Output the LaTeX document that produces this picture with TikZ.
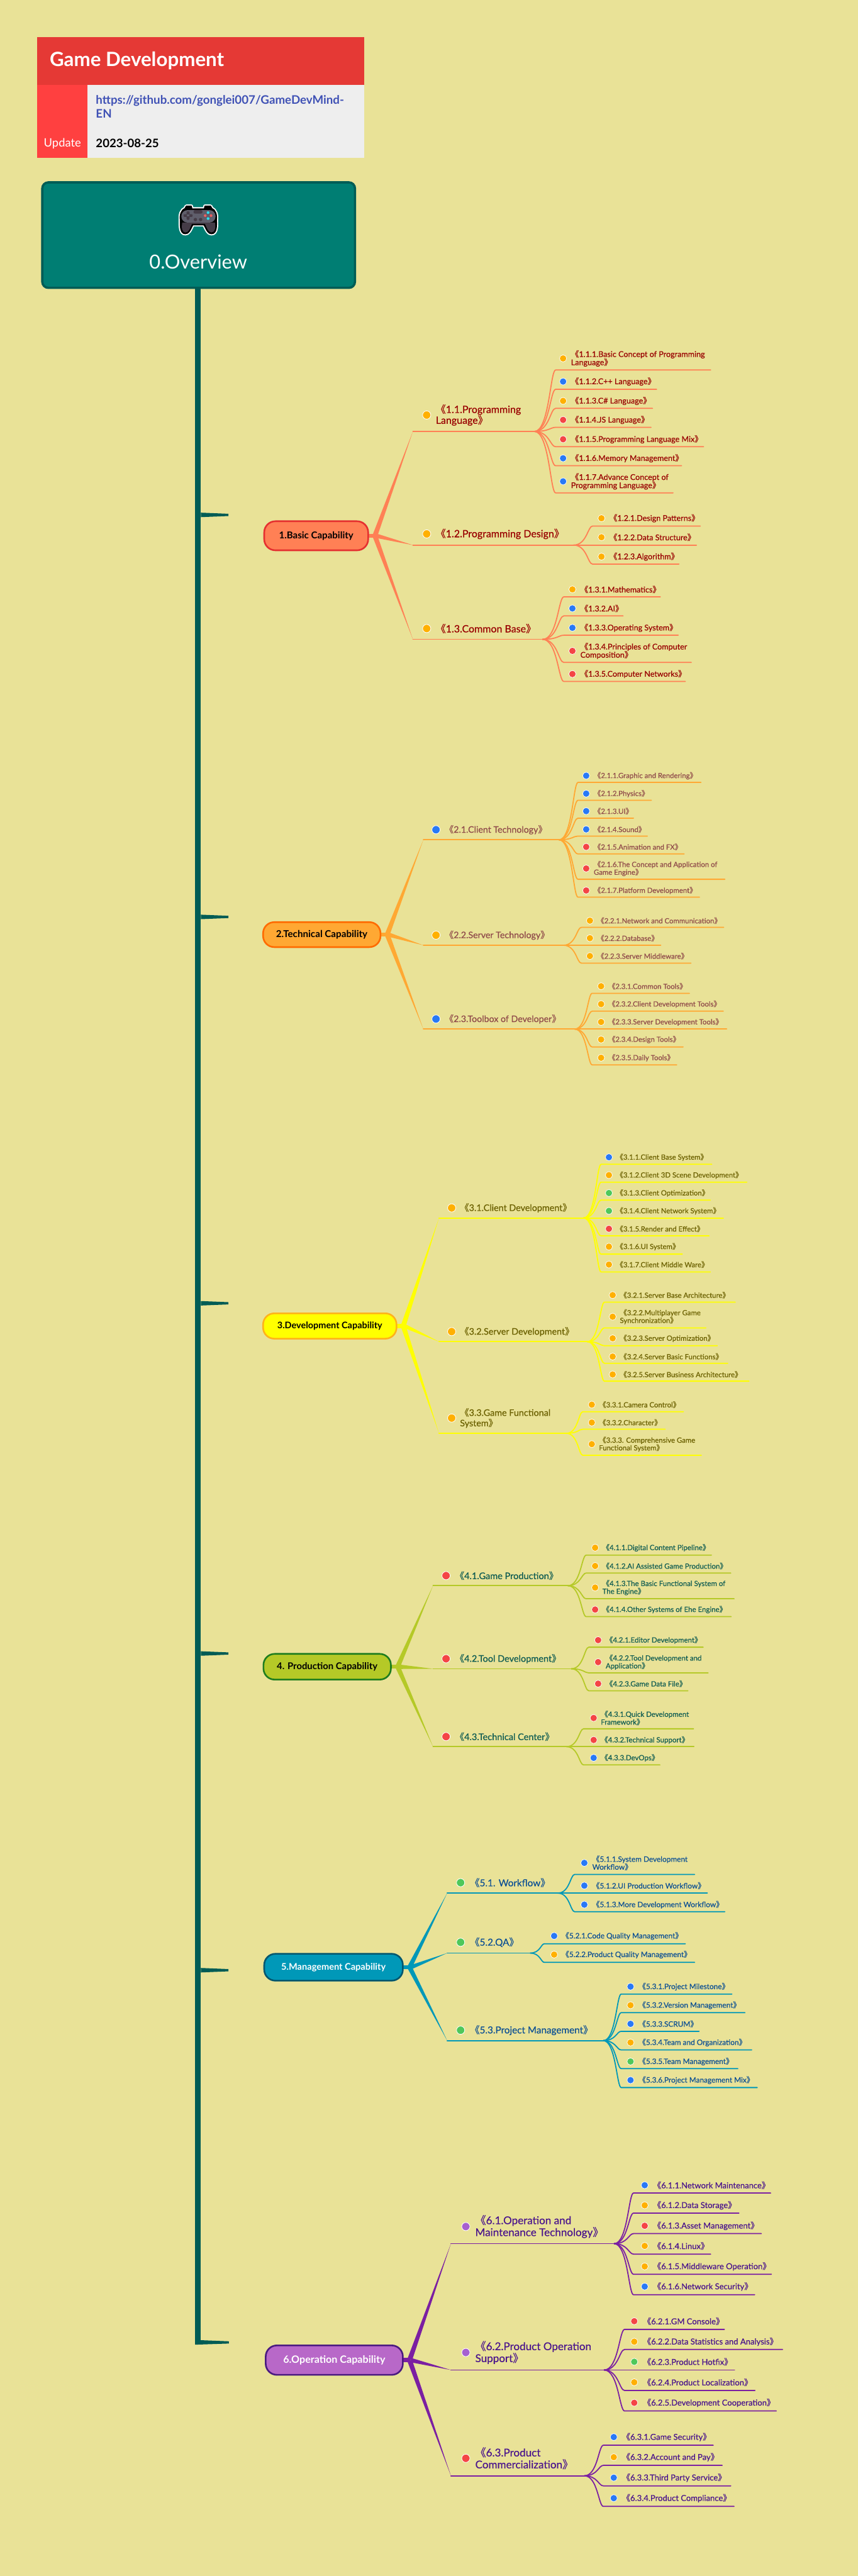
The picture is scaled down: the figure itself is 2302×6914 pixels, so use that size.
\documentclass[tikz,border=0pt]{standalone}
\usepackage{fontspec}
\usetikzlibrary{calc}
\setmainfont{Lato}
\newfontfamily\mdw[FakeBold=0.35]{Lato}
\newfontfamily\bdw{Lato Bold}
\newfontfamily\cjkf[FakeBold=0.2]{Noto Sans CJK SC}
\def\lb{{\cjkf 《}}
\def\rb{{\cjkf 》}}
\def\pxu{0.5pt}
\definecolor{bgc}{HTML}{E9E297}
\definecolor{dko}{HTML}{FFB000}
\definecolor{dkb}{HTML}{2979F5}
\definecolor{dkr}{HTML}{F44545}
\definecolor{dkg}{HTML}{4FC85A}
\definecolor{dkp}{HTML}{A660CF}
\definecolor{trunk}{HTML}{005C55}
\definecolor{HdrRed}{HTML}{E53935}
\definecolor{HdrRedB}{HTML}{FF4040}
\definecolor{HdrGray}{HTML}{EEEEEE}
\definecolor{HdrBlue}{HTML}{3F51B5}
\definecolor{OvFill}{HTML}{007E73}
\definecolor{PadDark}{HTML}{453C47}
\definecolor{PadGray}{HTML}{5F5E6B}
\definecolor{PadCy}{HTML}{29E0EF}
\definecolor{PadRd}{HTML}{EE5F5F}
\definecolor{G1L}{HTML}{FF8055}
\definecolor{G1T}{HTML}{990000}
\definecolor{G1B}{HTML}{E53030}
\definecolor{G2L}{HTML}{FFA833}
\definecolor{G2T}{HTML}{8F4A4A}
\definecolor{G2B}{HTML}{FF6B00}
\definecolor{G3L}{HTML}{FFFF00}
\definecolor{G3T}{HTML}{6B6000}
\definecolor{G3B}{HTML}{FFB21A}
\definecolor{G4L}{HTML}{B5C927}
\definecolor{G4T}{HTML}{0F5C52}
\definecolor{G4B}{HTML}{1E7D1E}
\definecolor{G5L}{HTML}{0098B8}
\definecolor{G5T}{HTML}{0B4F94}
\definecolor{G5B}{HTML}{00566E}
\definecolor{G6L}{HTML}{7B1FA2}
\definecolor{G6F}{HTML}{B868C8}
\definecolor{G6T}{HTML}{4A148C}
\definecolor{G6B}{HTML}{4A1A80}
\tikzset{
  link/.style={draw=gline,line width=1.5pt,line cap=round},
  dotn/.style={circle,draw=white,line width=0.6pt,inner sep=0pt,minimum size=19*\pxu},
  dotm/.style={circle,draw=white,line width=0.7pt,inner sep=0pt,minimum size=22*\pxu},
  lab/.style={anchor=west,align=left,inner sep=0pt,text=gtext},
  mainb/.style={rounded corners=15pt,line width=2.2pt,inner sep=0pt,align=center}
}
% main node: id x1 y1 x2 y2 fill border textcolor text
\newcommand\Mn[9]{%
  \coordinate (#1-j) at (#4+12,{(#3+#5)/2});
  \fill[gline] ($(#1-j)+(-13,-5.5)$) rectangle ($(#1-j)+(7,5.5)$);
  \node[mainb,fill=#6,draw=#7,text=#8,minimum width={(#4-#2)*\pxu},minimum height={(#5-#3)*\pxu},font=\mfont] (#1) at ({(#2+#4)/2},{(#3+#5)/2}) {#9};
}
% branch: id main startx liney hubx kind
\newcommand\Bra[6]{%
  \coordinate (#1-s) at (#3,#4);
  \coordinate (#1-h) at (#5,#4);
  \ifnum#6=0 \fill[gline] ($(#2-j)+(-1,0)$) -- ($(#2-j)+(13,0)$) -- (#1-s) -- cycle;
  \else \fill[gline] ($(#2-j)+(10,-6)$) -- ($(#2-j)+(10,6)$) -- (#1-s) -- cycle; \fi
  \draw[link] (#1-s) -- (#1-h);
  \def\hx{#5}\def\hy{#4}\def\hb{#1-h}%
}
% branch label: id dotx doty colour boxx text
\newcommand\Blab[6]{%
  \node[dotm,fill=#4] (#1-d) at (#2,#3) {};
  \node[lab,font=\bfont] (#1-t) at (#5,#3) {#6};
}
\newcommand\LfSet[3]{\def\cx{#1}\def\ldx{#2}\def\lbx{#3}}
% leaf: id liney endx doty colour text
\newcommand\Lf[6]{%
  \coordinate (#1-e) at (#3,#2);
  \coordinate (#1-k) at (\cx,#2);
  \coordinate (#1-ca) at ({\hx+0.7*(\cx-\hx)},\hy);
  \coordinate (#1-cb) at ({\hx+0.75*(\cx-\hx)},#2);
  \draw[link] (\hb) .. controls (#1-ca) and (#1-cb) .. (#1-k) -- (#1-e);
  \node[dotn,fill=#5] (#1-d) at (\ldx,#4) {};
  \node[lab,font=\lfont] (#1-t) at (\lbx,#4) {#6};
}
\begin{document}
\begin{tikzpicture}[x=0.5pt,y=-0.5pt]
\useasboundingbox (0,0) rectangle (2302,6914);
\fill[bgc] (0,0) rectangle (2302,6914);
% header
\node[fill=HdrRed,minimum width=877*\pxu,minimum height=128*\pxu,inner sep=0pt,anchor=north west] (hdr) at (100,100) {};
\node[fill=HdrRedB,minimum width=135*\pxu,minimum height=196*\pxu,inner sep=0pt,anchor=north west] (upd) at (100,228) {};
\node[fill=HdrGray,minimum width=742*\pxu,minimum height=196*\pxu,inner sep=0pt,anchor=north west] (bodyc) at (235,228) {};
\node[anchor=west,inner sep=0pt,text=white,font=\fontsize{26.4}{30}\selectfont\bdw] (ttl) at (133,163) {Game Development};
\node[anchor=west,inner sep=0pt,align=left,text=HdrBlue,font=\fontsize{15.8}{18}\selectfont\bdw] (url) at (257,286) {https://github.com/gonglei007/GameDevMind-\\EN};
\node[anchor=center,inner sep=0pt,text=white,font=\fontsize{15.5}{18}\selectfont] (updt) at (167.5,385) {Update};
\node[anchor=west,inner sep=0pt,text=black,font=\fontsize{15.7}{18}\selectfont\bdw] (dat) at (257,385) {2023-08-25};
% overview
\draw[trunk,line width=7.5pt] (531.5,770) -- (531.5,6293);
\node[rounded corners=8pt,fill=OvFill,draw=trunk,line width=3pt,minimum width=839*\pxu,minimum height=283*\pxu,inner sep=0pt] (ov) at (533,631) {};
\node[inner sep=0pt,text=white,font=\fontsize{26}{30}\selectfont] (ovt) at (532,703) {0.Overview};
% gamepad
\begin{scope}[shift={(470,540)},x=0.16667pt,y=-0.16667pt]
\def\padp{(135,62) -- (235,62) -- (240,40) -- (285,40) -- (295,58) .. controls (325,70) and (338,110) .. (332,150) .. controls (335,200) and (335,262) .. (292,262) .. controls (265,262) and (255,235) .. (232,190) -- (142,190) .. controls (120,235) and (110,262) .. (82,262) .. controls (40,262) and (40,200) .. (42,150) .. controls (36,110) and (50,70) .. (80,58) -- (90,40) -- (130,40) -- cycle}
\path[draw=white,line width=4.6pt,line join=round] \padp;
\path[fill=black,draw=black,line width=1.4pt,line join=round] \padp;
\fill[PadDark] (57,172) .. controls (52,210) and (50,250) .. (85,252) .. controls (112,250) and (120,215) .. (135,182) -- (240,182) .. controls (255,215) and (265,250) .. (292,252) .. controls (325,250) and (325,210) .. (320,172) -- cycle;
\fill[PadGray,rounded corners=8pt] (50,72) -- (325,72) -- (325,172) -- (50,172) -- cycle;
\fill[PadDark,rounded corners=2pt] (148,72) -- (220,72) -- (220,100) -- (148,100) -- cycle;
\fill[PadDark,rounded corners=1pt] (92,82) rectangle (116,150);
\fill[PadDark,rounded corners=1pt] (68,105) rectangle (140,127);
\fill[PadGray] (96,108) rectangle (112,124);
\fill[PadDark] (163,148) circle [radius=14];
\fill[PadDark] (205,148) circle [radius=14];
\fill[PadCy] (265,92) circle [radius=11];
\fill[PadCy] (265,140) circle [radius=11];
\fill[PadRd] (242,116) circle [radius=11];
\fill[PadRd] (289,116) circle [radius=11];
\end{scope}
% trunk stubs
\foreach \sid/\sy in {s1/1382,s2/2461,s3/3498,s4/4438,s5/5288}{
  \coordinate (\sid-a) at (539,\sy-6);
  \coordinate (\sid-b) at (613,\sy-3);
  \coordinate (\sid-c) at (613,\sy+3);
  \coordinate (\sid-d) at (539,\sy+6);
  \fill[trunk] (\sid-a) -- (\sid-b) -- (\sid-c) -- (\sid-d) -- cycle;
}
\coordinate (s6-a) at (539,6281);
\coordinate (s6-b) at (614,6284);
\coordinate (s6-c) at (614,6290);
\coordinate (s6-d) at (524,6293);
\fill[trunk] (s6-a) -- (s6-b) -- (s6-c) -- (s6-d) -- cycle;
%%%% GROUP 1
\colorlet{gline}{G1L}\colorlet{gtext}{G1T}
\def\mfont{\fontsize{12.7}{16}\selectfont\bdw}
\def\bfont{\fontsize{13.5}{14.5}\selectfont\mdw}
\def\lfont{\fontsize{10.6}{11}\selectfont\mdw}
\Mn{m1}{709}{1399}{988}{1477}{G1L}{G1B}{black}{1.Basic Capability}
\Bra{b11}{m1}{1108}{1158}{1434}{0}
\Blab{b11}{1145}{1114}{dko}{1169}{\lb 1.1.Programming\\Language\rb}
\LfSet{1491}{1511}{1532}
\Lf{l111}{993}{1907}{962}{dko}{\lb 1.1.1.Basic Concept of Programming\\Language\rb}
\Lf{l112}{1045}{1762}{1024}{dkb}{\lb 1.1.2.C++ Language\rb}
\Lf{l113}{1096}{1751}{1076}{dko}{\lb 1.1.3.C\# Language\rb}
\Lf{l114}{1147}{1747}{1127}{dkr}{\lb 1.1.4.JS Language\rb}
\Lf{l115}{1199}{1888}{1179}{dkr}{\lb 1.1.5.Programming Language Mix\rb}
\Lf{l116}{1250}{1829}{1230}{dkb}{\lb 1.1.6.Memory Management\rb}
\Lf{l117}{1323}{1806}{1292}{dkb}{\lb 1.1.7.Advance Concept of\\Programming Language\rb}
\Bra{b12}{m1}{1108}{1463}{1539}{1}
\Blab{b12}{1145}{1433}{dko}{1169}{\lb 1.2.Programming Design\rb}
\LfSet{1590}{1614}{1635}
\Lf{l121}{1412}{1879}{1391}{dko}{\lb 1.2.1.Design Patterns\rb}
\Lf{l122}{1463}{1869}{1442}{dko}{\lb 1.2.2.Data Structure\rb}
\Lf{l123}{1514}{1822}{1494}{dko}{\lb 1.2.3.Algorithm\rb}
\Bra{b13}{m1}{1108}{1716}{1456}{0}
\Blab{b13}{1145}{1687}{dko}{1169}{\lb 1.3.Common Base\rb}
\LfSet{1513}{1536}{1557}
\Lf{l131}{1602}{1772}{1582}{dko}{\lb 1.3.1.Mathematics\rb}
\Lf{l132}{1653}{1672}{1633}{dkb}{\lb 1.3.2.AI\rb}
\Lf{l133}{1705}{1820}{1685}{dkb}{\lb 1.3.3.Operating System\rb}
\Lf{l134}{1778}{1855}{1747}{dkr}{\lb 1.3.4.Principles of Computer\\Composition\rb}
\Lf{l135}{1829}{1839}{1809}{dkr}{\lb 1.3.5.Computer Networks\rb}
%%%% GROUP 2
\colorlet{gline}{G2L}\colorlet{gtext}{G2T}
\def\mfont{\fontsize{12.8}{16}\selectfont\bdw}
\def\lfont{\fontsize{9.6}{10.5}\selectfont\mdw}
\def\bfont{\fontsize{12}{14}\selectfont\mdw}
\Mn{m2}{706}{2475}{1021}{2542}{G2L}{G2B}{black}{2.Technical Capability}
\Bra{b21}{m2}{1136}{2254}{1500}{0}
\Blab{b21}{1170}{2227}{dkb}{1193}{\lb 2.1.Client Technology\rb}
\LfSet{1551}{1573}{1593}
\Lf{l211}{2100}{1881}{2082}{dkb}{\lb 2.1.1.Graphic and Rendering\rb}
\Lf{l212}{2148}{1748}{2130}{dkb}{\lb 2.1.2.Physics\rb}
\Lf{l213}{2196}{1700}{2177}{dkb}{\lb 2.1.3.UI\rb}
\Lf{l214}{2244}{1737}{2226}{dkb}{\lb 2.1.4.Sound\rb}
\Lf{l215}{2292}{1836}{2273}{dkr}{\lb 2.1.5.Animation and FX\rb}
\Lf{l216}{2360}{1945}{2331}{dkr}{\lb 2.1.6.The Concept and Application of\\Game Engine\rb}
\Lf{l217}{2408}{1877}{2390}{dkr}{\lb 2.1.7.Platform Development\rb}
\Bra{b22}{m2}{1136}{2537}{1512}{1}
\Blab{b22}{1170}{2510}{dko}{1193}{\lb 2.2.Server Technology\rb}
\LfSet{1560}{1583}{1602}
\Lf{l221}{2489}{1942}{2471}{dko}{\lb 2.2.1.Network and Communication\rb}
\Lf{l222}{2537}{1773}{2518}{dko}{\lb 2.2.2.Database\rb}
\Lf{l223}{2585}{1854}{2566}{dko}{\lb 2.2.3.Server Middleware\rb}
\Bra{b23}{m2}{1136}{2762}{1542}{0}
\Blab{b23}{1170}{2735}{dkb}{1193}{\lb 2.3.Toolbox of Developer\rb}
\LfSet{1589}{1613}{1632}
\Lf{l231}{2666}{1850}{2647}{dko}{\lb 2.3.1.Common Tools\rb}
\Lf{l232}{2714}{1941}{2695}{dko}{\lb 2.3.2.Client Development Tools\rb}
\Lf{l233}{2762}{1950}{2743}{dko}{\lb 2.3.3.Server Development Tools\rb}
\Lf{l234}{2810}{1833}{2790}{dko}{\lb 2.3.4.Design Tools\rb}
\Lf{l235}{2858}{1816}{2839}{dko}{\lb 2.3.5.Daily Tools\rb}
%%%% GROUP 3
\colorlet{gline}{G3L}\colorlet{gtext}{G3T}
\def\mfont{\fontsize{12.2}{16}\selectfont\bdw}
\def\lfont{\fontsize{9.6}{10.3}\selectfont\mdw}
\def\bfont{\fontsize{12.1}{14}\selectfont\mdw}
\Mn{m3}{706}{3525}{1064}{3593}{G3L}{G3B}{black}{3.Development Capability}
\Bra{b31}{m3}{1178}{3269}{1566}{0}
\Blab{b31}{1212}{3242}{dko}{1234}{\lb 3.1.Client Development\rb}
\LfSet{1613}{1634}{1653}
\Lf{l311}{3125}{1910}{3106}{dkb}{\lb 3.1.1.Client Base System\rb}
\Lf{l312}{3173}{2004}{3154}{dko}{\lb 3.1.2.Client 3D Scene Development\rb}
\Lf{l313}{3221}{1906}{3202}{dkg}{\lb 3.1.3.Client Optimization\rb}
\Lf{l314}{3269}{1941}{3250}{dkg}{\lb 3.1.4.Client Network System\rb}
\Lf{l315}{3317}{1903}{3298}{dkr}{\lb 3.1.5.Render and Effect\rb}
\Lf{l316}{3366}{1831}{3346}{dko}{\lb 3.1.6.UI System\rb}
\Lf{l317}{3414}{1906}{3394}{dko}{\lb 3.1.7.Client Middle Ware\rb}
\Bra{b32}{m3}{1178}{3601}{1576}{1}
\Blab{b32}{1212}{3574}{dko}{1234}{\lb 3.2.Server Development\rb}
\LfSet{1622}{1644}{1663}
\Lf{l321}{3495}{1973}{3476}{dko}{\lb 3.2.1.Server Base Architecture\rb}
\Lf{l322}{3564}{1894}{3534}{dko}{\lb 3.2.2.Multiplayer Game\\Synchronization\rb}
\Lf{l323}{3612}{1925}{3592}{dko}{\lb 3.2.3.Server Optimization\rb}
\Lf{l324}{3659}{1953}{3641}{dko}{\lb 3.2.4.Server Basic Functions\rb}
\Lf{l325}{3707}{2010}{3689}{dko}{\lb 3.2.5.Server Business Architecture\rb}
\Bra{b33}{m3}{1178}{3847}{1520}{0}
\Blab{b33}{1212}{3806}{dko}{1234}{\lb 3.3.Game Functional\\System\rb}
\LfSet{1564}{1588}{1607}
\Lf{l331}{3789}{1834}{3770}{dko}{\lb 3.3.1.Camera Control\rb}
\Lf{l332}{3836}{1785}{3818}{dko}{\lb 3.3.2.Character\rb}
\Lf{l333}{3906}{1882}{3876}{dko}{\lb 3.3.3. Comprehensive Game\\Functional System\rb}
%%%% GROUP 4
\colorlet{gline}{G4L}\colorlet{gtext}{G4T}
\def\mfont{\fontsize{12.5}{16}\selectfont\bdw}
\def\lfont{\fontsize{9.7}{10.5}\selectfont\mdw}
\def\bfont{\fontsize{12.25}{14}\selectfont\mdw}
\Mn{m4}{707}{4439}{1049}{4508}{G4L}{G4B}{black}{4. Production Capability}
\Bra{b41}{m4}{1162}{4256}{1524}{0}
\Blab{b41}{1197}{4229}{dkr}{1221}{\lb 4.1.Game Production\rb}
\LfSet{1573}{1597}{1616}
\Lf{l411}{4174}{1909}{4154}{dko}{\lb 4.1.1.Digital Content Pipeline\rb}
\Lf{l412}{4222}{1961}{4203}{dko}{\lb 4.1.2.AI Assisted Game Production\rb}
\Lf{l413}{4291}{1970}{4261}{dko}{\lb 4.1.3.The Basic Functional System of\\The Engine\rb}
\Lf{l414}{4339}{1962}{4320}{dkr}{\lb 4.1.4.Other Systems of Ehe Engine\rb}
\Bra{b42}{m4}{1162}{4479}{1533}{1}
\Blab{b42}{1197}{4452}{dkr}{1221}{\lb 4.2.Tool Development\rb}
\LfSet{1580}{1605}{1625}
\Lf{l421}{4421}{1887}{4402}{dkr}{\lb 4.2.1.Editor Development\rb}
\Lf{l422}{4490}{1900}{4461}{dkr}{\lb 4.2.2.Tool Development and\\Application\rb}
\Lf{l423}{4538}{1846}{4519}{dkr}{\lb 4.2.3.Game Data File\rb}
\Bra{b43}{m4}{1162}{4688}{1520}{0}
\Blab{b43}{1197}{4661}{dkr}{1221}{\lb 4.3.Technical Center\rb}
\LfSet{1566}{1593}{1612}
\Lf{l431}{4640}{1861}{4611}{dkr}{\lb 4.3.1.Quick Development\\Framework\rb}
\Lf{l432}{4688}{1862}{4670}{dkr}{\lb 4.3.2.Technical Support\rb}
\Lf{l433}{4737}{1771}{4718}{dkb}{\lb 4.3.3.DevOps\rb}
%%%% GROUP 5
\colorlet{gline}{G5L}\colorlet{gtext}{G5T}
\def\mfont{\fontsize{12.3}{16}\selectfont\bdw}
\def\lfont{\fontsize{10}{10.5}\selectfont\mdw}
\def\bfont{\fontsize{12.9}{14}\selectfont\mdw}
\Mn{m5}{709}{5244}{1081}{5316}{G5L}{G5B}{white}{5.Management Capability}
\Bra{b51}{m5}{1200}{5081}{1497}{0}
\Blab{b51}{1236}{5053}{dkg}{1261}{\lb 5.1. Workflow\rb}
\LfSet{1542}{1568}{1589}
\Lf{l511}{5031}{1864}{5000}{dkb}{\lb 5.1.1.System Development\\Workflow\rb}
\Lf{l512}{5081}{1898}{5061}{dkb}{\lb 5.1.2.UI Production Workflow\rb}
\Lf{l513}{5131}{1945}{5112}{dkb}{\lb 5.1.3.More Development Workflow\rb}
\Bra{b52}{m5}{1200}{5242}{1423}{1}
\Blab{b52}{1236}{5213}{dkg}{1261}{\lb 5.2.QA\rb}
\LfSet{1461}{1487}{1507}
\Lf{l521}{5217}{1839}{5196}{dkb}{\lb 5.2.1.Code Quality Management\rb}
\Lf{l522}{5267}{1864}{5246}{dko}{\lb 5.2.2.Product Quality Management\rb}
\Bra{b53}{m5}{1200}{5477}{1619}{0}
\Blab{b53}{1236}{5449}{dkg}{1261}{\lb 5.3.Project Management\rb}
\LfSet{1667}{1692}{1713}
\Lf{l531}{5352}{1964}{5332}{dkb}{\lb 5.3.1.Project Milestone\rb}
\Lf{l532}{5402}{1999}{5382}{dko}{\lb 5.3.2.Version Management\rb}
\Lf{l533}{5452}{1876}{5432}{dkb}{\lb 5.3.3.SCRUM\rb}
\Lf{l534}{5502}{2017}{5482}{dko}{\lb 5.3.4.Team and Organization\rb}
\Lf{l535}{5552}{1980}{5533}{dkg}{\lb 5.3.5.Team Management\rb}
\Lf{l536}{5603}{2032}{5583}{dkb}{\lb 5.3.6.Project Management Mix\rb}
%%%% GROUP 6
\colorlet{gline}{G6L}\colorlet{gtext}{G6T}
\def\mfont{\fontsize{13.6}{16}\selectfont\bdw}
\def\lfont{\fontsize{11}{11}\selectfont\mdw}
\def\bfont{\fontsize{14.4}{16}\selectfont\mdw}
\Mn{m6}{713}{6295}{1081}{6374}{G6F}{G6B}{white}{6.Operation Capability}
\Bra{b61}{m6}{1210}{6022}{1648}{0}
\Blab{b61}{1250}{5976}{dkp}{1275}{\lb 6.1.Operation and\\Maintenance Technology\rb}
\LfSet{1700}{1730}{1752}
\Lf{l611}{5886}{2068}{5865}{dkb}{\lb 6.1.1.Network Maintenance\rb}
\Lf{l612}{5940}{1983}{5919}{dko}{\lb 6.1.2.Data Storage\rb}
\Lf{l613}{5995}{2043}{5974}{dkr}{\lb 6.1.3.Asset Management\rb}
\Lf{l614}{6050}{1907}{6028}{dko}{\lb 6.1.4.Linux\rb}
\Lf{l615}{6104}{2070}{6083}{dko}{\lb 6.1.5.Middleware Operation\rb}
\Lf{l616}{6159}{2025}{6137}{dkb}{\lb 6.1.6.Network Security\rb}
\Bra{b62}{m6}{1210}{6361}{1621}{1}
\Blab{b62}{1250}{6314}{dkp}{1275}{\lb 6.2.Product Operation\\Support\rb}
\LfSet{1676}{1702}{1725}
\Lf{l621}{6252}{1944}{6230}{dkr}{\lb 6.2.1.GM Console\rb}
\Lf{l622}{6306}{2100}{6285}{dko}{\lb 6.2.2.Data Statistics and Analysis\rb}
\Lf{l623}{6361}{1971}{6339}{dkg}{\lb 6.2.3.Product Hotfix\rb}
\Lf{l624}{6416}{2026}{6394}{dko}{\lb 6.2.4.Product Localization\rb}
\Lf{l625}{6471}{2083}{6449}{dkr}{\lb 6.2.5.Development Cooperation\rb}
\Bra{b63}{m6}{1210}{6645}{1568}{0}
\Blab{b63}{1250}{6598}{dkr}{1275}{\lb 6.3.Product\\Commercialization\rb}
\LfSet{1619}{1647}{1669}
\Lf{l631}{6563}{1914}{6541}{dkb}{\lb 6.3.1.Game Security\rb}
\Lf{l632}{6617}{1938}{6595}{dko}{\lb 6.3.2.Account and Pay\rb}
\Lf{l633}{6672}{1961}{6650}{dkb}{\lb 6.3.3.Third Party Service\rb}
\Lf{l634}{6727}{1970}{6705}{dkb}{\lb 6.3.4.Product Compliance\rb}
\end{tikzpicture}
\end{document}
